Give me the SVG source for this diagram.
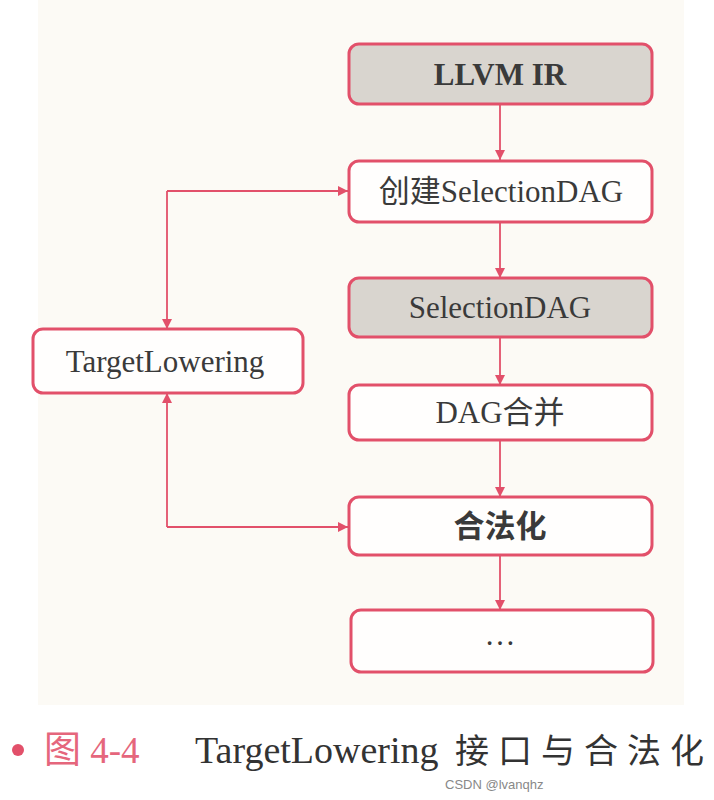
<svg xmlns="http://www.w3.org/2000/svg" width="714" height="800" viewBox="0 0 714 800">
<style>
.box{fill:#fffefd;stroke:#e2506a;stroke-width:3}
.gray{fill:#d9d5cf}
.t{font-family:"Liberation Serif","Noto Sans CJK SC",serif;font-size:31px;fill:#3a3a3a;text-anchor:middle}
.c{fill:none;stroke:#e2506a;stroke-width:1.8}
.cap{font-family:"Liberation Serif","Noto Sans CJK SC",serif}
</style>
<defs>
<marker id="ah" viewBox="0 0 10 10" refX="10" refY="5" markerWidth="10" markerHeight="12" markerUnits="userSpaceOnUse" orient="auto">
<path d="M0,0 L10,5 L0,10 z" fill="#e2506a"/>
</marker>
</defs>
<rect width="714" height="800" fill="#ffffff"/>
<rect x="38" y="0" width="646" height="705" fill="#fcfaf5"/>
<g id="connectors">
<line class="c" x1="500" y1="104" x2="500" y2="160" marker-end="url(#ah)"/>
<line class="c" x1="500" y1="222" x2="500" y2="278" marker-end="url(#ah)"/>
<line class="c" x1="500" y1="337" x2="500" y2="385" marker-end="url(#ah)"/>
<line class="c" x1="500" y1="440" x2="500" y2="497" marker-end="url(#ah)"/>
<line class="c" x1="500" y1="555" x2="500" y2="610" marker-end="url(#ah)"/>
<path class="c" d="M167,191 L348,191" marker-end="url(#ah)"/>
<path class="c" d="M167,191 L167,329" marker-end="url(#ah)"/>
<path class="c" d="M167,527 L348,527" marker-end="url(#ah)"/>
<path class="c" d="M167,527 L167,393" marker-end="url(#ah)"/>
</g>
<g id="llvm-ir"><rect class="box gray" x="349" y="44" width="303" height="60" rx="10"/><text class="t" x="500" y="85" font-weight="bold">LLVM IR</text></g>
<g id="create-dag"><rect class="box" x="349" y="161" width="303" height="61" rx="10"/><text class="t" x="501" y="202">创建SelectionDAG</text></g>
<g id="selection-dag"><rect class="box gray" x="349" y="278" width="303" height="59" rx="10"/><text class="t" x="500" y="318">SelectionDAG</text></g>
<g id="dag-combine"><rect class="box" x="349" y="385" width="303" height="55" rx="10"/><text class="t" x="500" y="423">DAG合并</text></g>
<g id="legalize"><rect class="box" x="349" y="497" width="303" height="58" rx="10"/><text class="t" x="500" y="537" font-weight="bold">合法化</text></g>
<g id="more"><rect class="box" x="351" y="610" width="302" height="62" rx="10"/><text class="t" x="500" y="645" font-size="22">…</text></g>
<g id="target-lowering"><rect class="box" x="33" y="329" width="270" height="64" rx="10"/><text class="t" x="165" y="372">TargetLowering</text></g>
<g id="caption">
<circle cx="18" cy="750" r="6" fill="#e2506a"/>
<text class="cap" x="44" y="763" font-size="37" fill="#e5667c">图 4-4</text>
<text class="cap" x="195" y="763" font-size="38" fill="#333">TargetLowering</text>
<text class="cap" x="455" y="763" font-size="34" fill="#333" letter-spacing="9">接口与合法化</text>
<text x="445" y="789" font-family="'Liberation Sans','Noto Sans',sans-serif" font-size="13" fill="#888">CSDN @lvanqhz</text>
</g>
</svg>
